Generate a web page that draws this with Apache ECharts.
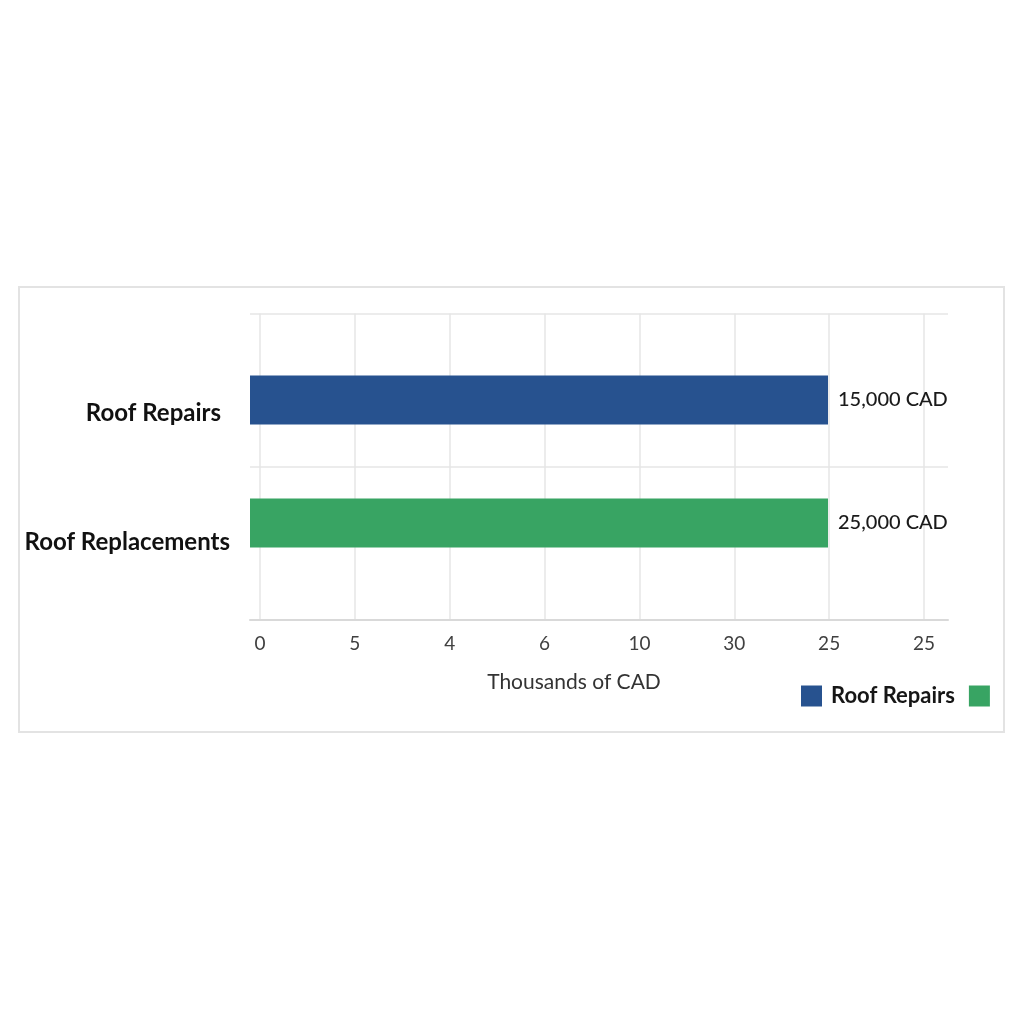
<!DOCTYPE html>
<html>
<head>
<meta charset="utf-8">
<script src="https://cdn.jsdelivr.net/npm/echarts@6/dist/echarts.min.js"></script>
<style>html,body{margin:0;padding:0;background:#fff;}#chart{width:1024px;height:1024px;}</style>
</head>
<body>
<div id="chart"></div>
<script>
// ---- data ----
const categories = ['Roof Repairs', 'Roof Replacements'];
const seriesNames = ['Roof Repairs', 'Roof Replacements'];
const valueLabels = ['15,000 CAD', '25,000 CAD'];
// both bars end at the 7th tick (the one labelled "25") in the reference
const barEnds = [6, 6];
const tickLabels = ['0', '5', '4', '6', '10', '30', '25', '25'];
const axisTitle = 'Thousands of CAD';
const colors = ['#27528f', '#38a463'];

const chart = echarts.init(document.getElementById('chart'));
const FONT = 'Lato';

const series = seriesNames.map((name, i) => ({
  name: name,
  type: 'bar',
  xAxisIndex: 2,
  yAxisIndex: 2,
  barWidth: 49,
  barGap: '-100%',
  itemStyle: { color: colors[i] },
  data: categories.map((c, j) => (j === i ? barEnds[j] : '-')),
  label: {
    show: true,
    position: 'right',
    distance: 10,
    formatter: (p) => valueLabels[p.dataIndex],
    color: '#1a1a1a',
    fontFamily: FONT,
    fontSize: 20,
    fontWeight: 500
  }
}));

chart.setOption({
  backgroundColor: '#ffffff',
  animation: false,
  textStyle: { fontFamily: FONT },
  graphic: [{
    type: 'rect',
    shape: { x: 19, y: 287, width: 985, height: 445 },
    style: { fill: 'none', stroke: '#e3e3e3', lineWidth: 2 },
    z: -1
  }],
  legend: {
    left: 801,
    top: 685,
    padding: 0,
    itemWidth: 21,
    itemHeight: 21,
    itemGap: 14,
    icon: 'rect',
    data: seriesNames,
    formatter: (name) => (name === seriesNames[0] ? name : ''),
    textStyle: { fontFamily: FONT, fontSize: 22, fontWeight: 'bold', color: '#161616', padding: [0, 0, 0, 4] }
  },
  grid: [
    { left: 250, right: 76, top: 313.5, bottom: 404, containLabel: false },
    { left: 260, right: 100, top: 313.5, bottom: 404, containLabel: false },
    { left: 250, right: 99.67, top: 338.5, bottom: 439.5, containLabel: false }
  ],
  xAxis: [
    {
      gridIndex: 0, type: 'value', min: 0, max: 1,
      axisLine: { show: true, lineStyle: { color: '#d9d9d9', width: 2 } },
      axisTick: { show: false }, axisLabel: { show: false }, splitLine: { show: false }
    },
    {
      gridIndex: 1, type: 'value', min: 0, max: 7, interval: 1,
      axisLine: { show: false }, axisTick: { show: false },
      splitLine: { show: true, lineStyle: { color: '#e6e6e6', width: 1.5 } },
      axisLabel: {
        margin: 14,
        formatter: (v) => tickLabels[Math.round(v)],
        color: '#404040', fontFamily: FONT, fontSize: 19
      },
      name: axisTitle,
      nameLocation: 'middle',
      nameGap: 52,
      nameTextStyle: { color: '#333333', fontFamily: FONT, fontSize: 21, padding: [0, 36, 0, 0] }
    },
    { gridIndex: 2, type: 'value', min: 0, max: 7, show: false }
  ],
  yAxis: [
    {
      gridIndex: 0, type: 'category', inverse: true, data: categories,
      axisLine: { show: false }, axisTick: { show: false }, axisLabel: { show: false },
      splitLine: { show: true, lineStyle: { color: '#e6e6e6', width: 1.5 } }
    },
    { gridIndex: 1, type: 'category', inverse: true, data: categories, show: false },
    {
      gridIndex: 2, type: 'category', inverse: true, data: categories,
      axisLine: { show: false }, axisTick: { show: false }, splitLine: { show: false },
      axisLabel: {
        margin: 20,
        formatter: (v, i) => (i === 0 ? '{a|' + v + '}' : '{b|' + v + '}'),
        rich: {
          a: { fontFamily: FONT, fontSize: 24, fontWeight: 'bold', color: '#111111', padding: [26, 9, 0, 0] },
          b: { fontFamily: FONT, fontSize: 24, fontWeight: 'bold', color: '#111111', padding: [38, 0, 0, 0] }
        }
      }
    }
  ],
  series: series
});
</script>
</body>
</html>
